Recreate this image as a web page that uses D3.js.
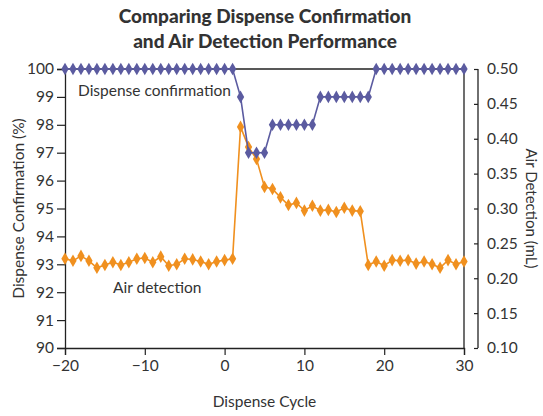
<!DOCTYPE html>
<html>
<head>
<meta charset="utf-8">
<script src="https://cdn.jsdelivr.net/npm/d3@7"></script>
<style>
  body { margin: 0; background: #fff; }
  text { font-family: Lato, "Open Sans", sans-serif; fill: #333; }
</style>
</head>
<body>
<svg id="chart"></svg>
<script>
// Dispense cycles -20 .. 30
const cycles = d3.range(-20, 31);

// Dispense confirmation (%)
const confirmation = [
  100, 100, 100, 100, 100, 100, 100, 100, 100, 100,
  100, 100, 100, 100, 100, 100, 100, 100, 100, 100,
  100, 100, 99, 97, 97, 97, 98, 98, 98, 98,
  98, 98, 99, 99, 99, 99, 99, 99, 99, 100,
  100, 100, 100, 100, 100, 100, 100, 100, 100, 100, 100
];

// Air detection (mL)
const airDetection = [
  0.228, 0.225, 0.232, 0.225, 0.215, 0.219, 0.223, 0.219, 0.223, 0.228,
  0.229, 0.223, 0.231, 0.218, 0.220, 0.228, 0.227, 0.224, 0.220, 0.224,
  0.226, 0.228, 0.417, 0.388, 0.371, 0.331, 0.328, 0.316, 0.305, 0.308,
  0.297, 0.304, 0.297, 0.298, 0.295, 0.301, 0.297, 0.296, 0.219, 0.224,
  0.218, 0.226, 0.225, 0.226, 0.221, 0.224, 0.220, 0.215, 0.226, 0.220, 0.224
];

const xTicks = [-20, -10, 0, 10, 20, 30];
const leftTicks = d3.range(90, 101);
const rightTicks = [0.10, 0.15, 0.20, 0.25, 0.30, 0.35, 0.40, 0.45, 0.50];

const W = 543, H = 416;
const margin = { top: 69, right: 79, bottom: 68, left: 65 };
const width = W - margin.left - margin.right,
      height = H - margin.top - margin.bottom;

const svg = d3.select("#chart").attr("width", W).attr("height", H);
const chart = svg.append("g").attr("transform", `translate(${margin.left}, ${margin.top})`);

const x = d3.scaleLinear().domain([-20, 30]).range([0, width]);
const yL = d3.scaleLinear().domain([90, 100]).range([height, 0]);
const yR = d3.scaleLinear().domain([0.10, 0.50]).range([height, 0]);

const blue = "#5b5ba0", orange = "#f0901f";

// Frame (top and right)
chart.append("path")
  .attr("d", `M0,0H${width}V${height}`)
  .attr("fill", "none").attr("stroke", "#222").attr("stroke-width", 1.3);

// Axes
const xAxis = chart.append("g")
  .attr("transform", `translate(0, ${height})`)
  .call(d3.axisBottom(x).tickValues(xTicks).tickSize(7).tickPadding(5).tickFormat(d => d < 0 ? "\u2212" + Math.abs(d) : d));

const leftAxis = chart.append("g")
  .call(d3.axisLeft(yL).tickValues(leftTicks).tickSize(8).tickPadding(3));

const rightAxis = chart.append("g")
  .attr("transform", `translate(${width + 14}, 0)`)
  .call(d3.axisRight(yR).tickValues(rightTicks).tickSize(-4).tickPadding(9).tickFormat(d3.format(".2f")));

[xAxis, leftAxis, rightAxis].forEach(a => {
  a.select(".domain").attr("stroke", "#222").attr("stroke-width", 1.3);
  a.selectAll(".tick line").attr("stroke", "#222").attr("stroke-width", 1.2);
  a.selectAll("text").style("font-size", "15.5px").attr("fill", "#333");
});
rightAxis.select(".domain").attr("d", `M0,${height}V0`);

// Lines
const diamond = d3.symbol().type(d3.symbolDiamond).size(46);

function drawSeries(values, yScale, color) {
  const pts = cycles.map((c, i) => [c, values[i]]);
  chart.append("path")
    .datum(pts)
    .attr("fill", "none")
    .attr("stroke", color)
    .attr("stroke-width", 1.6)
    .attr("d", d3.line().x(d => x(d[0])).y(d => yScale(d[1])));
  chart.append("g").selectAll("path")
    .data(pts)
    .join("path")
    .attr("transform", d => `translate(${x(d[0])}, ${yScale(d[1])})`)
    .attr("d", diamond)
    .attr("fill", color);
}
drawSeries(airDetection, yR, orange);
drawSeries(confirmation, yL, blue);

// Series labels
chart.append("text").attr("x", 13).attr("y", 27).style("font-size", "15.5px").text("Dispense confirmation");
chart.append("text").attr("x", 48).attr("y", 224).style("font-size", "15.5px").text("Air detection");

// Title
svg.append("text").attr("x", 265).attr("y", 23).attr("text-anchor", "middle")
  .style("font-size", "19px").style("font-weight", "900").attr("fill", "#222").text("Comparing Dispense Confirmation");
svg.append("text").attr("x", 265).attr("y", 48).attr("text-anchor", "middle")
  .style("font-size", "19px").style("font-weight", "900").attr("fill", "#222").text("and Air Detection Performance");

// Axis titles
svg.append("text").attr("x", margin.left + width / 2).attr("y", 407).attr("text-anchor", "middle")
  .style("font-size", "15.5px").text("Dispense Cycle");
svg.append("text").attr("transform", `translate(24, ${margin.top + height / 2}) rotate(-90)`)
  .attr("text-anchor", "middle").style("font-size", "15.5px").text("Dispense Confirmation (%)");
svg.append("text").attr("transform", `translate(526, ${margin.top + height / 2}) rotate(90)`)
  .attr("text-anchor", "middle").style("font-size", "15px").text("Air Detection (mL)");
</script>
</body>
</html>
